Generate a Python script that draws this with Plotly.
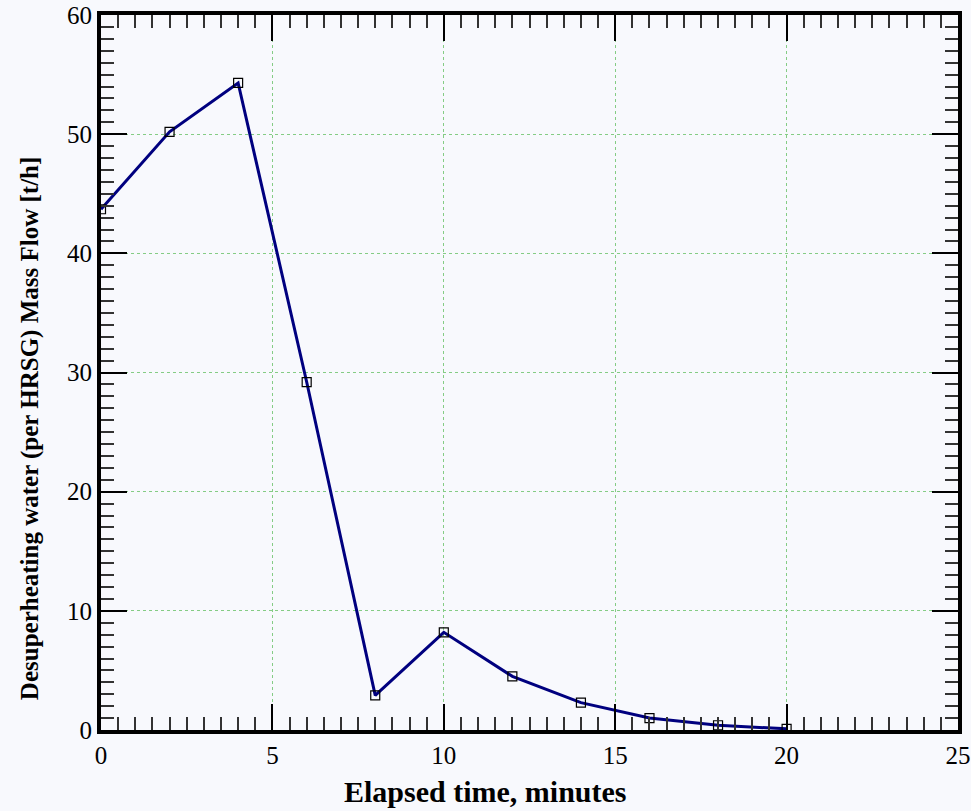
import plotly.graph_objects as go

time_min = [0, 2, 4, 6, 8, 10, 12, 14, 16, 18, 20]
mass_flow = [43.7, 50.2, 54.3, 29.2, 2.9, 8.2, 4.5, 2.3, 1.0, 0.4, 0.1]

x_title = "Elapsed time, minutes"
y_title = "Desuperheating water (per HRSG) Mass Flow [t/h]"

bg = "#f8f9fd"
fig = go.Figure()
fig.add_trace(go.Scatter(
    x=time_min, y=mass_flow, mode="lines+markers",
    line=dict(color="#00007f", width=3),
    marker=dict(symbol="square-open", size=9, color="black", line=dict(width=1.2, color="black")),
    showlegend=False,
))

font = "Liberation Serif, Times New Roman, serif"
axis_common = dict(
    showline=True, linecolor="black", linewidth=4, mirror="ticks",
    ticks="inside", ticklen=26, tickwidth=1.5, tickcolor="black",
    showgrid=True, gridcolor="#85cc85", gridwidth=1, griddash="dot",
    zeroline=False, automargin=False,
    tickfont=dict(family=font, size=25, color="black"),
)
fig.update_xaxes(range=[0, 25], dtick=5, **axis_common,
                 minor=dict(dtick=0.5, ticks="inside", ticklen=13, tickcolor="#333", tickwidth=1.5, showgrid=False))
fig.update_yaxes(range=[0, 60], dtick=10, **axis_common,
                 minor=dict(dtick=1, ticks="inside", ticklen=13, tickcolor="#333", tickwidth=1.5, showgrid=False))
fig.add_annotation(text="<b>" + x_title + "</b>", xref="paper", yref="paper",
                   x=0.449, y=-0.0867, xanchor="center", yanchor="middle", showarrow=False,
                   font=dict(family=font, size=30, color="black"))
fig.add_annotation(text="<b>" + y_title + "</b>", xref="paper", yref="paper",
                   x=-0.083, y=0.422, xanchor="center", yanchor="middle", showarrow=False,
                   textangle=-90, font=dict(family=font, size=25, color="black"))
fig.update_layout(
    width=971, height=811,
    margin=dict(l=101, r=13, t=15, b=81),
    plot_bgcolor=bg, paper_bgcolor=bg,
)
fig.write_html("out.html")
